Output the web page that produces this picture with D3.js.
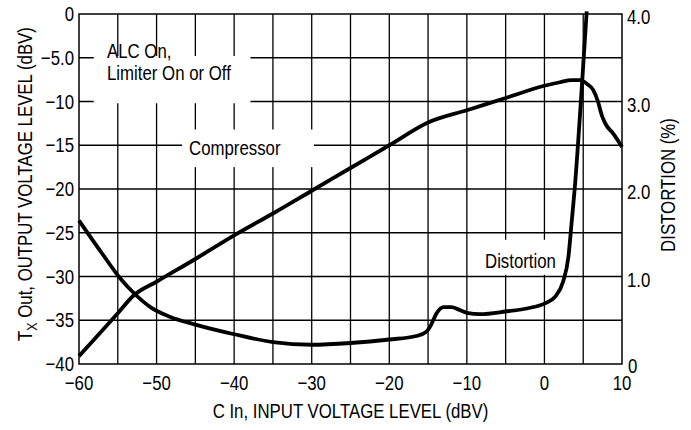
<!DOCTYPE html>
<html>
<head>
<meta charset="utf-8">
<script src="https://cdn.jsdelivr.net/npm/d3@7/dist/d3.min.js"></script>
<style>
  html, body { margin: 0; padding: 0; background: #fff; }
  svg text { font-family: "Liberation Sans", Arial, Helvetica, sans-serif; fill: #000; }
</style>
</head>
<body>
<svg id="chart" width="691" height="430"></svg>
<script>
// ---- data ----
const xTicks = [-60, -50, -40, -30, -20, -10, 0, 10];
const xTickLabels = ["\u221260", "\u221250", "\u221240", "\u221230", "\u221220", "\u221210", "0", "10"];
const yLeftTicks = [0, -5, -10, -15, -20, -25, -30, -35, -40];
const yLeftLabels = ["0", "\u22125.0", "\u221210", "\u221215", "\u221220", "\u221225", "\u221230", "\u221235", "\u221240"];
const yRightTicks = [4, 3, 2, 1, 0];
const yRightLabels = ["4.0", "3.0", "2.0", "1.0", "0"];

// Compressor: input level (dBV) -> output level (dBV), left axis
const compIn  = [-60, -55, -53, -50, -45, -40, -35, -30, -25, -20, -15, -10, -5, 0, 2, 3.5, 4.6, 5.5, 6.3, 6.9, 7.4, 7.9, 8.9, 10];
const compOut = [-39.1, -34.2, -32.2, -30.6, -28.0, -25.3, -22.8, -20.2, -17.6, -15.0, -12.4, -11.0, -9.6, -8.2, -7.8, -7.55, -7.55, -8.0, -8.7, -10.0, -11.6, -12.6, -13.7, -15.2];

// Distortion: input level (dBV) -> distortion (%), right axis
const distIn  = [-60, -57, -54.7, -52.8, -50.8, -48.3, -45, -40, -35, -30, -25, -20, -16.5, -15.2, -14.6, -13.9, -13, -12, -11, -10, -8.3, -5, -2, 0, 1.4, 2.4, 3.1, 3.5, 3.9, 4.7, 5.45];
const distPct = [1.64, 1.26, 0.98, 0.80, 0.65, 0.54, 0.45, 0.34, 0.25, 0.22, 0.24, 0.28, 0.32, 0.37, 0.45, 0.58, 0.65, 0.65, 0.62, 0.585, 0.57, 0.60, 0.64, 0.69, 0.77, 0.94, 1.23, 1.61, 2.0, 3.0, 4.03];

const xTitle = "C In, INPUT VOLTAGE LEVEL (dBV)";
const yRightTitle = "DISTORTION (%)";

// ---- layout ----
const L = 79, R = 622, T = 14, B = 364;
const FS = 20.5, SX = 0.82;   // condensed sans look
const svg = d3.select("#chart");

const x = d3.scaleLinear().domain([-60, 10]).range([L, R]);
const yL = d3.scaleLinear().domain([-40, 0]).range([B, T]);
const yR = d3.scaleLinear().domain([0, 4]).range([B, T]);

// grid
const g = svg.append("g").attr("stroke", "#000").attr("stroke-width", 1.3);
g.selectAll("line.v").data(d3.range(-55, 10, 5)).join("line")
  .attr("x1", d => x(d)).attr("x2", d => x(d)).attr("y1", T).attr("y2", B);
g.selectAll("line.h").data(d3.range(-35, 0, 5)).join("line")
  .attr("x1", L).attr("x2", R).attr("y1", d => yL(d)).attr("y2", d => yL(d));

// white label boxes (interrupt grid lines)
const boxes = [
  {x0: -58.1, x1: -37.9, y0: -4.8, y1: -10.2},
  {x0: -46.7, x1: -29.7, y0: -13.2, y1: -17.5},
  {x0: -9.5, x1: 1.2, y0: -25.8, y1: -29.8}
];
svg.selectAll("rect.box").data(boxes).join("rect")
  .attr("x", d => x(d.x0)).attr("width", d => x(d.x1) - x(d.x0))
  .attr("y", d => yL(d.y0)).attr("height", d => yL(d.y1) - yL(d.y0))
  .attr("fill", "#fff");

// frame
svg.append("rect").attr("x", L).attr("y", T).attr("width", R - L).attr("height", B - T)
  .attr("fill", "none").attr("stroke", "#000").attr("stroke-width", 1.5);

// curves
const compLine = d3.line().x(d => x(d[0])).y(d => yL(d[1])).curve(d3.curveMonotoneX);
const distLine = d3.line().x(d => x(d[0])).y(d => yR(d[1])).curve(d3.curveMonotoneX);
svg.append("path").datum(d3.zip(compIn, compOut)).attr("d", compLine)
  .attr("fill", "none").attr("stroke", "#000").attr("stroke-width", 3.8).attr("stroke-linejoin", "round");
svg.append("path").datum(d3.zip(distIn, distPct)).attr("d", distLine)
  .attr("fill", "none").attr("stroke", "#000").attr("stroke-width", 3.8).attr("stroke-linejoin", "round");

// text helper: condensed text placed at (px,py), optional rotation
function label(px, py, str, anchor, rot) {
  const t = svg.append("text")
    .attr("font-size", FS)
    .attr("text-anchor", anchor || "start")
    .attr("transform", `translate(${px},${py})` + (rot ? ` rotate(${rot})` : "") + ` scale(${SX},1)`);
  if (str !== null) t.text(str);
  return t;
}

xTicks.forEach((d, i) => label(x(d), 390, xTickLabels[i], "middle"));
yLeftTicks.forEach((d, i) => label(74, yL(d) + 7, yLeftLabels[i], "end"));
yRightTicks.forEach((d, i) => label(d === 0 ? 628 : 627, yR(d) + (d === 0 ? 9 : 10), yRightLabels[i], "start"));

label((L + R) / 2, 418, xTitle, "middle");

const yt = label(32, 184, null, "middle", -90);
yt.append("tspan").text("T");
yt.append("tspan").attr("font-size", 15).attr("dy", 5).text("X");
yt.append("tspan").attr("dy", -5).text(" Out, OUTPUT VOLTAGE LEVEL (dBV)");

label(675, 185, yRightTitle, "middle", -90);

// annotations
label(107, 58, "ALC On,");
label(107, 80, "Limiter On or Off");
label(189, 155, "Compressor");
label(485, 268, "Distortion");
</script>
</body>
</html>
